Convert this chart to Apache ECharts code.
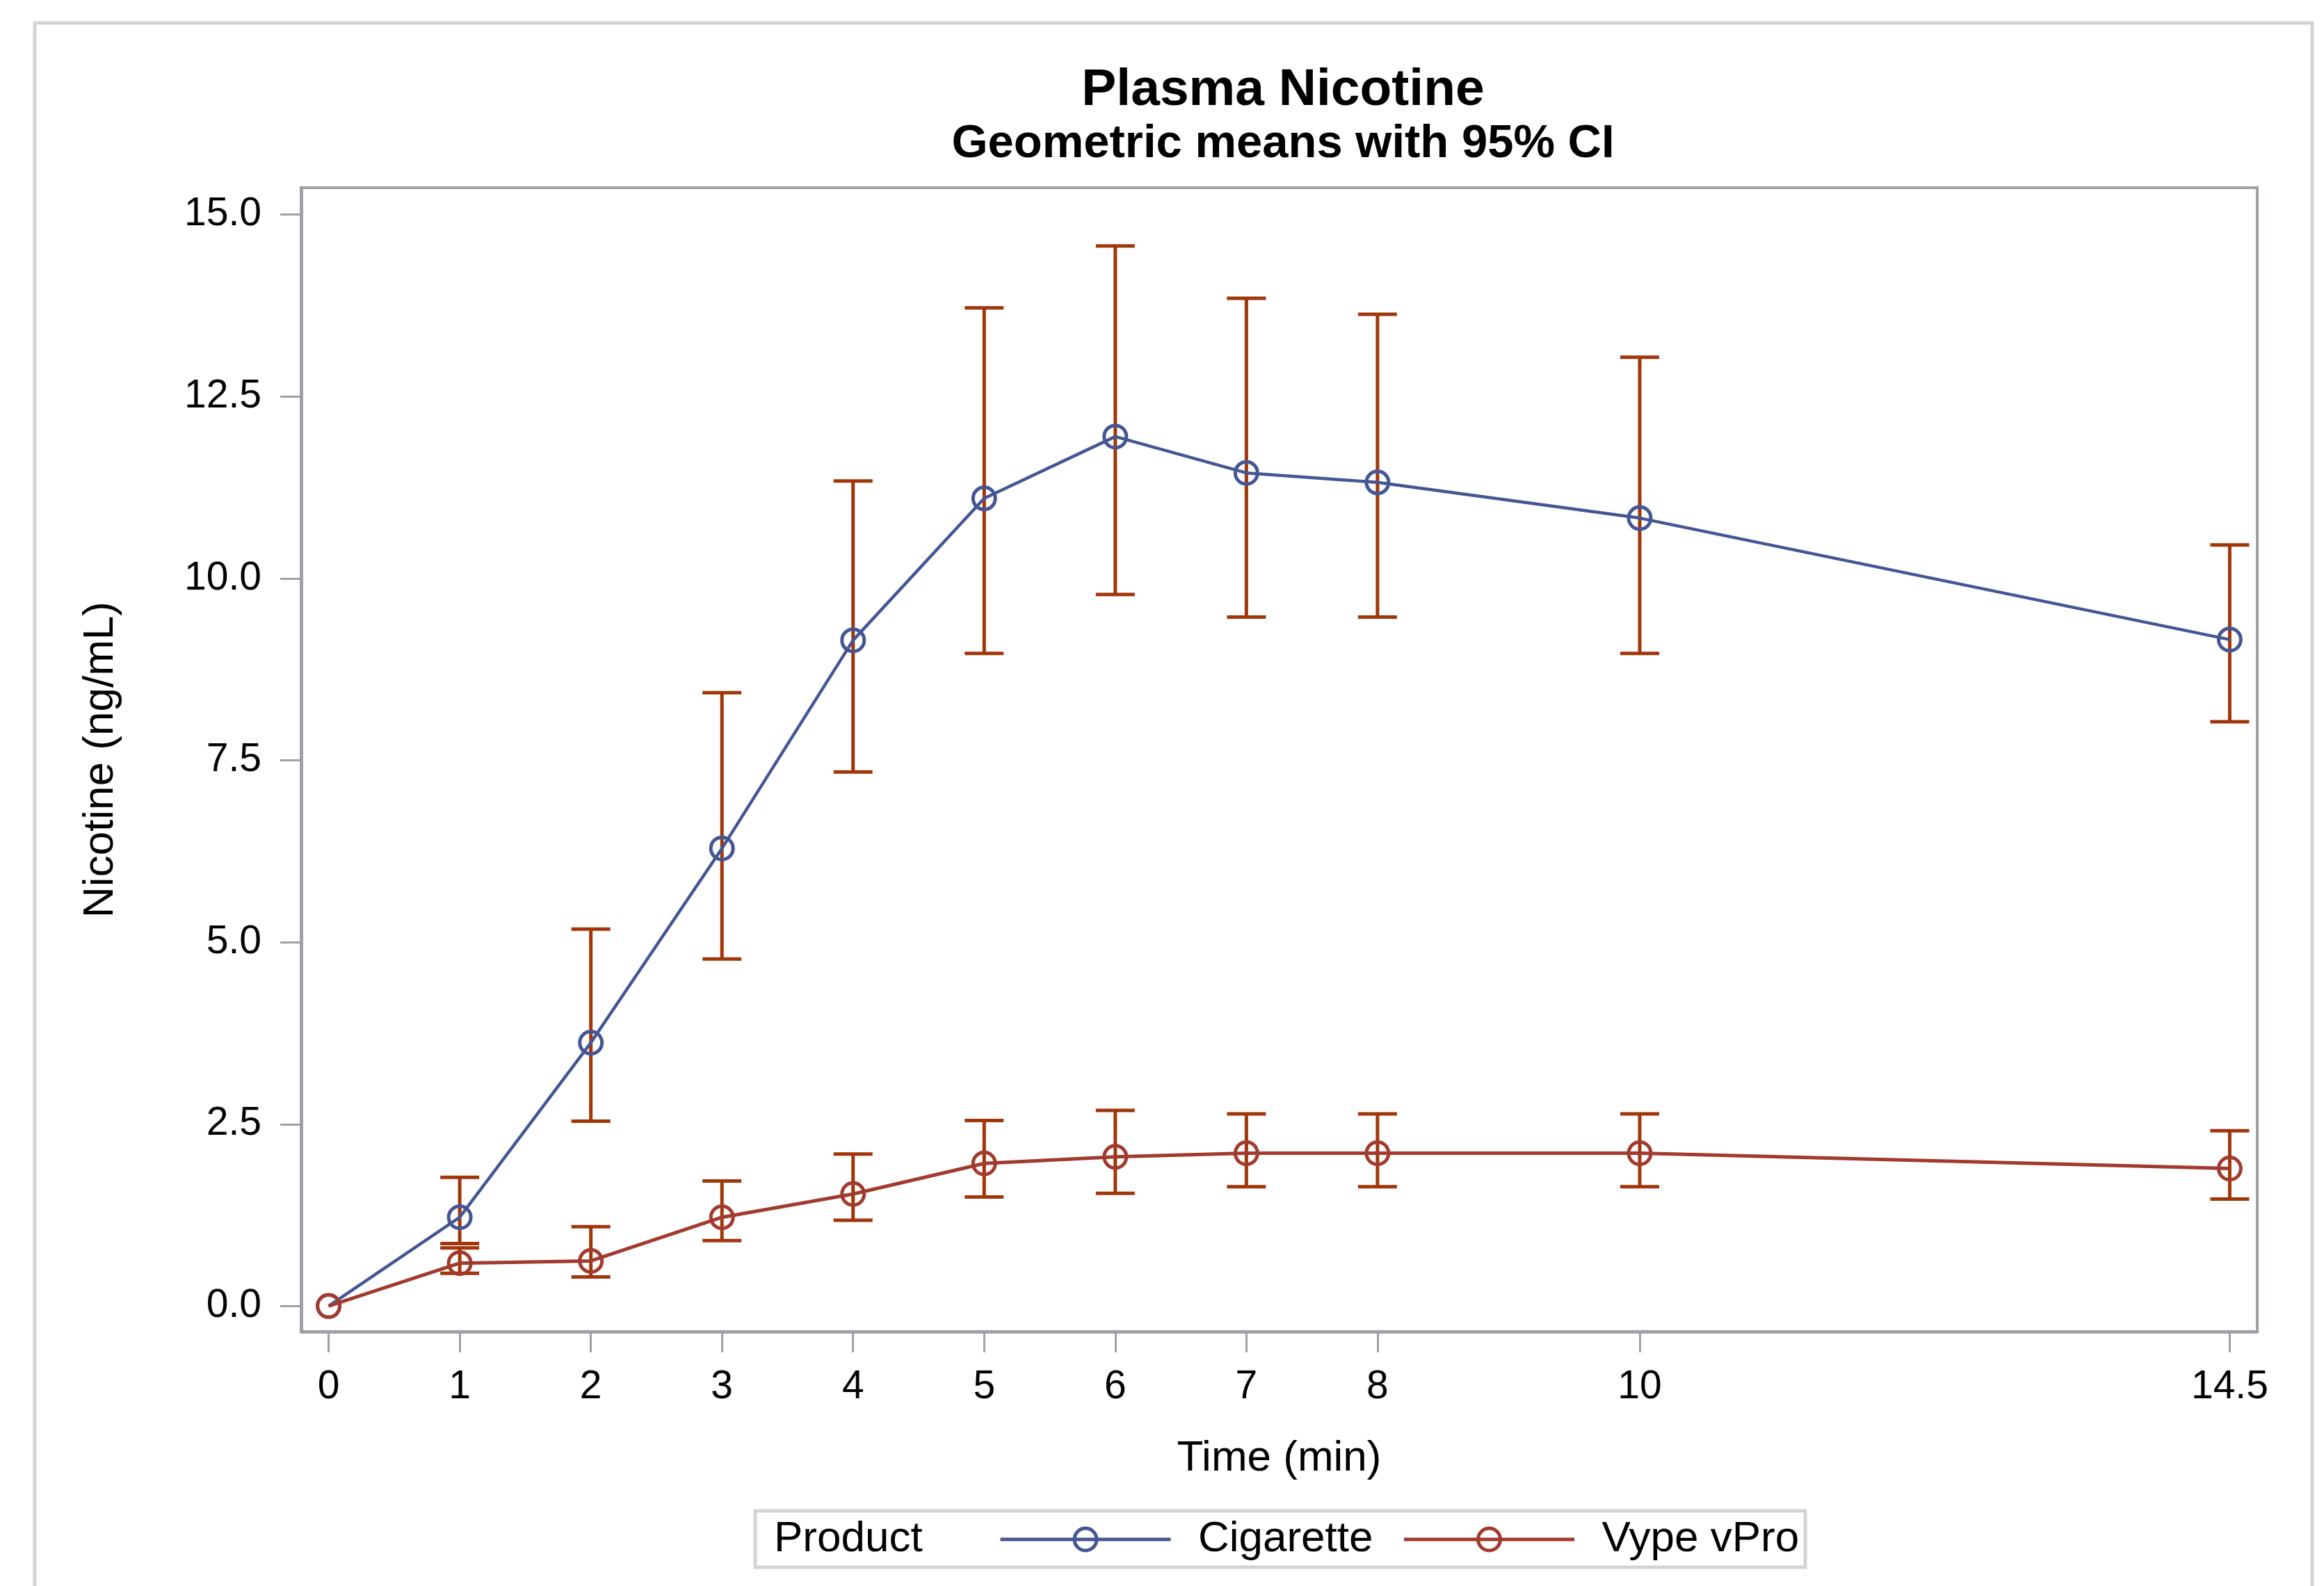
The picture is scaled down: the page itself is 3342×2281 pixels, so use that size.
<!DOCTYPE html>
<html>
<head>
<meta charset="utf-8">
<title>Plasma Nicotine</title>
<script src="https://cdn.jsdelivr.net/npm/echarts@6/dist/echarts.min.js"></script>
<style>
  html, body { margin: 0; padding: 0; background: #fff; }
  #container { width: 3342px; height: 2281px; }
</style>
</head>
<body>
<div id="container"></div>
<script>
// sampling times (min)
const times = [0, 1, 2, 3, 4, 5, 6, 7, 8, 10, 14.5];
const yTicks = [0, 2.5, 5, 7.5, 10, 12.5, 15];

// geometric means and 95% CI
const cigMean = [0, 1.22, 3.62, 6.29, 9.15, 11.1, 11.95, 11.45, 11.32, 10.83, 9.16];
const cigLower = [null, 0.86, 2.54, 4.77, 7.34, 8.97, 9.78, 9.47, 9.47, 8.97, 8.03];
const cigUpper = [null, 1.77, 5.18, 8.43, 11.34, 13.72, 14.57, 13.85, 13.63, 13.04, 10.46];

const vypeMean = [0, 0.59, 0.62, 1.22, 1.54, 1.96, 2.05, 2.1, 2.1, 2.1, 1.89];
const vypeLower = [null, 0.45, 0.4, 0.9, 1.18, 1.5, 1.55, 1.64, 1.64, 1.64, 1.47];
const vypeUpper = [null, 0.8, 1.09, 1.72, 2.09, 2.55, 2.69, 2.64, 2.64, 2.64, 2.41];

const FONT = "'Liberation Sans', Arial, sans-serif";
const AXIS_GREY = "#9ea2a6";
const BLUE = "#445694";
const RED = "#a23a2e";
const BAR = "#a0360a";

const toPoints = (ys) => times.map((t, i) => [t, ys[i]]);
const toBars = (lo, hi) =>
  times
    .map((t, i) => [t, lo[i], hi[i]])
    .filter((d) => d[1] !== null);

function errorBar(params, api) {
  const x = api.value(0);
  const pLo = api.coord([x, api.value(1)]);
  const pHi = api.coord([x, api.value(2)]);
  const hw = 28;
  const style = { stroke: BAR, lineWidth: 5 };
  return {
    type: "group",
    children: [
      { type: "line", shape: { x1: pLo[0], y1: pLo[1], x2: pHi[0], y2: pHi[1] }, style },
      { type: "line", shape: { x1: pLo[0] - hw, y1: pLo[1], x2: pLo[0] + hw, y2: pLo[1] }, style },
      { type: "line", shape: { x1: pHi[0] - hw, y1: pHi[1], x2: pHi[0] + hw, y2: pHi[1] }, style },
    ],
  };
}

const dom = document.getElementById("container");
const myChart = echarts.init(dom, null, { renderer: "canvas" });

const option = {
  animation: false,
  textStyle: { fontFamily: FONT },
  title: [
    {
      text: "Plasma Nicotine",
      left: 1840,
      top: 88,
      textAlign: "center",
      textStyle: { fontFamily: FONT, fontSize: 75, fontWeight: "bold", color: "#000" },
    },
    {
      text: "Geometric means with 95% CI",
      left: 1840,
      top: 169,
      textAlign: "center",
      textStyle: { fontFamily: FONT, fontSize: 67, fontWeight: "bold", color: "#000" },
    },
  ],
  graphic: [
    {
      type: "rect",
      shape: { x: 50, y: 33, width: 3275, height: 2400 },
      style: { fill: "none", stroke: "#d3d3d3", lineWidth: 5 },
      silent: true,
      z: -1,
    },
    {
      type: "rect",
      shape: { x: 1086, y: 2173, width: 1510, height: 81 },
      style: { fill: "#fff", stroke: "#d3d3d3", lineWidth: 5 },
      silent: true,
    },
    {
      type: "text",
      x: 1113,
      y: 2214,
      style: {
        text: "Product",
        font: "62px " + FONT,
        fill: "#000",
        verticalAlign: "middle",
      },
      silent: true,
    },
  ],
  legend: {
    data: ["Cigarette", "Vype vPro"],
    left: 1436,
    top: 2183,
    padding: 0,
    itemWidth: 245,
    itemHeight: 40,
    itemGap: 42,
    formatter: (name) => "  " + name,
    textStyle: { fontFamily: FONT, fontSize: 62, color: "#000" },
    lineStyle: { width: 5 },
    itemStyle: { borderWidth: 5 },
    z: 5,
  },
  grid: {
    left: 433,
    right: 96,
    top: 270,
    bottom: 366,
    show: true,
    borderColor: AXIS_GREY,
    borderWidth: 4,
    containLabel: false,
    outerBoundsMode: "none",
  },
  xAxis: {
    type: "value",
    min: -0.21,
    max: 14.71,
    name: "Time (min)",
    nameLocation: "middle",
    nameGap: 152,
    nameTextStyle: { fontFamily: FONT, fontSize: 62, color: "#000" },
    axisLine: { show: true, onZero: false, lineStyle: { color: AXIS_GREY, width: 5 } },
    axisTick: {
      show: true,
      inside: false,
      length: 30,
      customValues: times,
      lineStyle: { color: AXIS_GREY, width: 3 },
    },
    axisLabel: {
      customValues: times,
      margin: 52,
      fontFamily: FONT,
      fontSize: 57,
      color: "#000",
      formatter: (v) => String(v),
    },
    splitLine: { show: false },
  },
  yAxis: {
    type: "value",
    min: -0.35,
    max: 15.37,
    name: "Nicotine (ng/mL)",
    nameLocation: "middle",
    nameRotate: 90,
    nameGap: 257,
    nameTextStyle: { fontFamily: FONT, fontSize: 62, color: "#000" },
    axisLine: { show: true, onZero: false, lineStyle: { color: AXIS_GREY, width: 5 } },
    axisTick: {
      show: true,
      inside: false,
      length: 30,
      customValues: yTicks,
      lineStyle: { color: AXIS_GREY, width: 3 },
    },
    axisLabel: {
      customValues: yTicks,
      margin: 57,
      fontFamily: FONT,
      fontSize: 57,
      color: "#000",
      formatter: (v) => v.toFixed(1),
    },
    splitLine: { show: false },
  },
  series: [
    {
      name: "Cigarette CI",
      type: "custom",
      renderItem: errorBar,
      encode: { x: 0, y: [1, 2] },
      data: toBars(cigLower, cigUpper),
      z: 1,
    },
    {
      name: "Vype vPro CI",
      type: "custom",
      renderItem: errorBar,
      encode: { x: 0, y: [1, 2] },
      data: toBars(vypeLower, vypeUpper),
      z: 1,
    },
    {
      name: "Cigarette",
      type: "line",
      data: toPoints(cigMean),
      symbol: "circle",
      symbolSize: 32,
      showAllSymbol: true,
      lineStyle: { color: BLUE, width: 4.5 },
      itemStyle: { color: "rgba(0,0,0,0)", borderColor: BLUE, borderWidth: 5 },
      z: 3,
    },
    {
      name: "Vype vPro",
      type: "line",
      data: toPoints(vypeMean),
      symbol: "circle",
      symbolSize: 32,
      showAllSymbol: true,
      lineStyle: { color: RED, width: 5 },
      itemStyle: { color: "rgba(0,0,0,0)", borderColor: RED, borderWidth: 5 },
      z: 3,
    },
  ],
};

if (option && typeof option === "object") {
  myChart.setOption(option);
}

window.addEventListener("resize", myChart.resize);
</script>
</body>
</html>
